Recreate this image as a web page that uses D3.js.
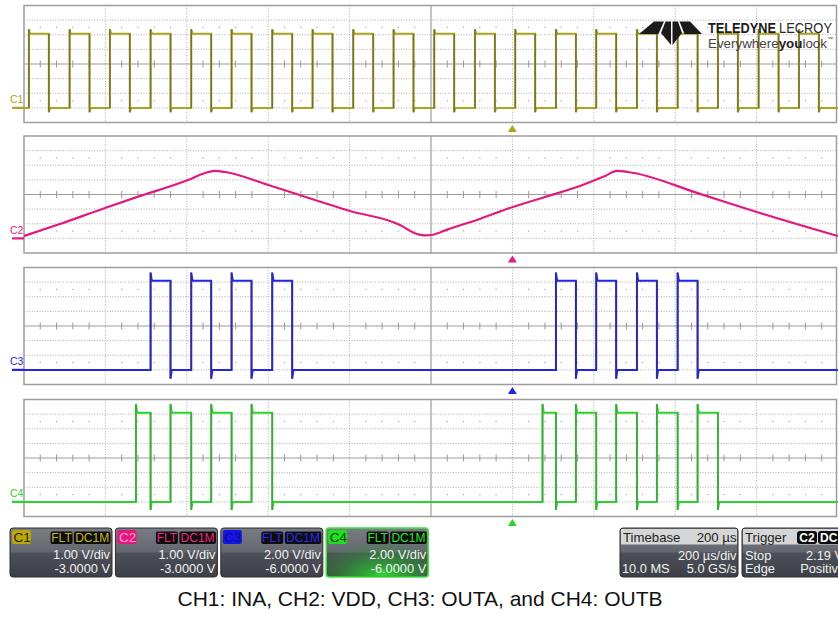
<!DOCTYPE html>
<html><head><meta charset="utf-8">
<script src="https://cdn.jsdelivr.net/npm/d3@7/dist/d3.min.js"></script>
<style>
body{margin:0;background:#fff;}
svg{display:block;font-family:"Liberation Sans",Arial,sans-serif;}
</style>
</head><body>
<svg id="chart" width="838" height="618"></svg>
<script>
// ---------------- DATA ----------------
const timeDomain = [0, 2000];            // µs across the screen (10 div x 200 µs)
const triggerTime = 1200;                // µs
const channels = ["C1", "C2", "C3", "C4"];
const voltsPerDiv = [1, 1, 2, 2];
const offsets = [-3, -3, -6, -6];
const scaleTexts = ["1.00 V/div", "1.00 V/div", "2.00 V/div", "2.00 V/div"];
const offsetTexts = ["-3.0000 V", "-3.0000 V", "-6.0000 V", "-6.0000 V"];

// CH1 INA: [rise, fall] times in µs
const c1Pulses = [[12,61],[112,161],[211,260],[311,360],[411,460],[510,559],[610,659],[709,758],[809,858],[908,957],
                  [1008,1057],[1108,1157],[1207,1256],[1307,1356],[1406,1455],[1506,1555],[1606,1655],[1705,1754],[1805,1854],[1904,1953]];
const c1Low = 0, c1High = 5.07;

// CH2 VDD: time (µs) / volts
const c2Times = [0, 88, 199, 278, 403, 445, 469, 494, 600, 801, 925, 960, 985, 1005, 1040, 1120, 1201, 1280, 1366, 1428, 1457, 1484, 1661, 1808, 2000];
const c2Volts = [0.16, 0.98, 2.08, 2.83, 3.99, 4.47, 4.61, 4.54, 3.65, 1.87, 0.9, 0.35, 0.2, 0.25, 0.6, 1.33, 2.15, 2.83, 3.58, 4.27, 4.61, 4.54, 3.04, 1.74, 0.16];

// CH3 OUTA pulses
const c3Pulses = [[311,360],[411,460],[510,559],[610,659],[1307,1356],[1406,1455],[1506,1555],[1606,1655]];
const c3Low = 0, c3High = 12.2;

// CH4 OUTB pulses
const c4Pulses = [[275,311],[360,411],[460,510],[559,610],[1274,1307],[1356,1406],[1455,1506],[1555,1606],[1655,1705]];
const c4Low = 0, c4High = 12.2;

const caption = "CH1: INA, CH2: VDD, CH3: OUTA, and CH4: OUTB";

// ---------------- STYLE / LAYOUT ----------------
const traceColors = ["#aaa41e", "#e3197e", "#2626e0", "#2ad42a"];
const edgeColors  = ["#76732e", "#e3197e", "#2e2e8c", "#4f9c4f"];
const labelBg     = ["#b9a70c", "#e8167c", "#1515e8", "#22dd22"];
const labelFg     = ["#2a2606", "#f9a6cf", "#0c0c8a", "#0a4a0a"];
const tagFg       = ["#c8b61e", "#f02383", "#2a2aee", "#2ae22a"];

const svg = d3.select("#chart");
const X0 = 24, X1 = 838, FRAME_R = 836.5;
const panelTops = [5.5, 136, 267.5, 399.5];
const PH = 117, NDIV_Y = 8, NDIV_X = 10;
const divH = PH / NDIV_Y;

const x = d3.scaleLinear().domain(timeDomain).range([X0, X1]);

const defs = svg.append("defs");

// ---------------- PANELS ----------------
const yScales = channels.map((c, i) => {
  const center = -offsets[i];
  return d3.scaleLinear()
    .domain([center - 4 * voltsPerDiv[i], center + 4 * voltsPerDiv[i]])
    .range([panelTops[i] + PH, panelTops[i]]);
});

channels.forEach((c, i) => {
  const top = panelTops[i], bot = top + PH, mid = top + PH / 2;
  const g = svg.append("g");
  const xt = d3.range(1, NDIV_X).map(k => timeDomain[0] + k * 200);
  g.selectAll(".vg").data(xt.filter(t => t !== 1000)).join("line")
    .attr("x1", d => x(d)).attr("x2", d => x(d)).attr("y1", top).attr("y2", bot)
    .attr("stroke", "#ababab").attr("stroke-width", 1).attr("stroke-dasharray", "1,1.6");
  const yt = d3.range(1, NDIV_Y).filter(k => k !== 4);
  g.selectAll(".hg").data(yt).join("line")
    .attr("x1", X0).attr("x2", FRAME_R).attr("y1", d => top + d * divH).attr("y2", d => top + d * divH)
    .attr("stroke", "#ababab").attr("stroke-width", 1).attr("stroke-dasharray", "1,1.6");
  const minor = d3.range(1, NDIV_X * 5).filter(k => k % 5 !== 0).map(k => timeDomain[0] + k * 40);
  g.selectAll(".tk").data(minor).join("line")
    .attr("x1", d => x(d)).attr("x2", d => x(d)).attr("y1", mid - 3.5).attr("y2", mid + 3.5)
    .attr("stroke", "#9a9a9a").attr("stroke-width", 1);
  [mid - 2.5 * divH, mid + 2.5 * divH].forEach(yy => {
    g.selectAll(null).data(minor).join("rect")
      .attr("x", d => x(d) - 0.6).attr("y", yy - 0.6).attr("width", 1.2).attr("height", 1.2)
      .attr("fill", "#a5a5a5");
  });
  g.append("line").attr("x1", X0).attr("x2", FRAME_R).attr("y1", mid).attr("y2", mid)
    .attr("stroke", "#9c9c9c").attr("stroke-width", 1.2);
  g.append("line").attr("x1", x(1000)).attr("x2", x(1000)).attr("y1", top).attr("y2", bot)
    .attr("stroke", "#9c9c9c").attr("stroke-width", 1.2);
  g.append("rect").attr("x", X0).attr("y", top).attr("width", FRAME_R - X0).attr("height", PH)
    .attr("fill", "none").attr("stroke", "#9d9d9d").attr("stroke-width", 1.5);
  const tx = x(triggerTime), ty = bot + 2.5;
  g.append("path").attr("d", `M${tx},${ty} L${tx + 4.5},${ty + 7} L${tx - 4.5},${ty + 7} Z`)
    .attr("fill", traceColors[i]);
  const y0 = yScales[i](0);
  g.append("line").attr("x1", 12).attr("x2", X0).attr("y1", y0).attr("y2", y0)
    .attr("stroke", traceColors[i]).attr("stroke-width", 2.2);
  g.append("text").attr("x", 10).attr("y", y0 - 4.5).text(c)
    .attr("font-size", 10.5).attr("fill", traceColors[i]);
});

// ---------------- TRACES ----------------
function squarePoints(pulses, low, high, os, us, dt) {
  const pts = [[timeDomain[0], low]];
  pulses.forEach(([r, f]) => {
    pts.push([r, low], [r, high + os], [r + dt, high], [f, high], [f, low - us], [f + dt, low]);
  });
  pts.push([timeDomain[1], low]);
  return pts;
}
function drawSquare(i, pulses, low, high, os, us) {
  const y = yScales[i];
  const line = d3.line().x(d => x(d[0])).y(d => y(d[1]));
  const pts = squarePoints(pulses, low, high, os, us, 3);
  svg.append("path").attr("d", line(pts)).attr("fill", "none")
    .attr("stroke", traceColors[i]).attr("stroke-width", 2).attr("stroke-linejoin", "miter");
  const edges = [];
  pulses.forEach(([r, f]) => { edges.push([r, low, high + os]); edges.push([f, high, low - us]); });
  svg.append("g").selectAll("line").data(edges).join("line")
    .attr("x1", d => x(d[0])).attr("x2", d => x(d[0]))
    .attr("y1", d => y(d[1])).attr("y2", d => y(d[2]))
    .attr("stroke", edgeColors[i]).attr("stroke-width", 1.5);
}
drawSquare(0, c1Pulses, c1Low, c1High, 0.3, 0.3);
drawSquare(2, c3Pulses, c3Low, c3High, 1.1, 1.2);
drawSquare(3, c4Pulses, c4Low, c4High, 1.2, 1.1);

const c2Line = d3.line().x(d => x(d[0])).y(d => yScales[1](d[1])).curve(d3.curveMonotoneX);
svg.append("path").attr("d", c2Line(c2Times.map((t, k) => [t, c2Volts[k]])))
  .attr("fill", "none").attr("stroke", traceColors[1]).attr("stroke-width", 2.2);

// ---------------- LOGO ----------------
const logo = svg.append("g");
[
  [[654,21.5],[664,21.5],[658.5,34],[639,34]],
  [[665.5,21.5],[671,21.5],[671,45],[661,33]],
  [[672.5,21.5],[678,21.5],[682,33],[672.5,45]],
  [[679.5,21.5],[690,21.5],[702,34],[684.5,34]]
].forEach(p => logo.append("path").attr("d", "M" + p.join("L") + "Z").attr("fill", "#1b1b1b"));
logo.append("text").attr("x", 708).attr("y", 32.5).text("TELEDYNE")
  .attr("font-weight", "bold").attr("font-size", 14.5).attr("fill", "#1b1b1b")
  .attr("textLength", 68).attr("lengthAdjust", "spacingAndGlyphs");
logo.append("text").attr("x", 779).attr("y", 32.5).text("LECROY")
  .attr("font-size", 14.5).attr("fill", "#2a2a2a")
  .attr("textLength", 53).attr("lengthAdjust", "spacingAndGlyphs");
const ev = logo.append("text").attr("x", 708).attr("y", 47.5).attr("font-size", 13.5).attr("fill", "#444")
  .attr("textLength", 119).attr("lengthAdjust", "spacingAndGlyphs");
ev.append("tspan").text("Everywhere");
ev.append("tspan").text("you").attr("font-weight", "bold").attr("fill", "#222");
ev.append("tspan").text("look");
logo.append("text").attr("x", 827).attr("y", 41).text("™").attr("font-size", 6).attr("fill", "#444");

// ---------------- INFO BOXES ----------------
const boxG = defs.append("linearGradient").attr("id", "boxg").attr("x1", 0).attr("x2", 0).attr("y1", 0).attr("y2", 1);
[["0", "#7a7c83"], ["0.48", "#64676f"], ["0.52", "#4d5058"], ["1", "#3c3f47"]]
  .forEach(([o, c]) => boxG.append("stop").attr("offset", o).attr("stop-color", c));
const glow = defs.append("radialGradient").attr("id", "glow").attr("cx", 0.55).attr("cy", 1).attr("r", 0.75)
  .attr("fx", 0.55).attr("fy", 1);
glow.append("stop").attr("offset", "0").attr("stop-color", "#2fe02f").attr("stop-opacity", 0.95);
glow.append("stop").attr("offset", "0.6").attr("stop-color", "#29a02f").attr("stop-opacity", 0.45);
glow.append("stop").attr("offset", "1").attr("stop-color", "#29a02f").attr("stop-opacity", 0);

const BY = 528, BH = 49, BW = 102, FS = 12.8;
channels.forEach((c, i) => {
  const bx = 10 + i * 105.4;
  const g = svg.append("g");
  g.append("rect").attr("x", bx).attr("y", BY).attr("width", BW).attr("height", BH).attr("rx", 3)
    .attr("fill", "url(#boxg)").attr("stroke", i === 3 ? "#3ce63c" : "#2c2c2c").attr("stroke-width", i === 3 ? 1.6 : 1);
  if (i === 3) g.append("rect").attr("x", bx + 1).attr("y", BY + 1).attr("width", BW - 2).attr("height", BH - 2)
    .attr("rx", 3).attr("fill", "url(#glow)");
  g.append("rect").attr("x", bx + 2).attr("y", BY + 2).attr("width", 19).attr("height", 14).attr("rx", 2).attr("fill", labelBg[i]);
  g.append("text").attr("x", bx + 3.5).attr("y", BY + 14).text(c).attr("font-size", 13.5).attr("fill", labelFg[i]);
  g.append("rect").attr("x", bx + 40.5).attr("y", BY + 3.5).attr("width", 22).attr("height", 12.5).attr("rx", 2).attr("fill", "#0e0e0e");
  g.append("rect").attr("x", bx + 64).attr("y", BY + 3.5).attr("width", 36.5).attr("height", 12.5).attr("rx", 2).attr("fill", "#0e0e0e");
  g.append("text").attr("x", bx + 51.5).attr("y", BY + 14).attr("text-anchor", "middle").text("FLT")
    .attr("font-size", 12).attr("fill", tagFg[i]);
  g.append("text").attr("x", bx + 82.2).attr("y", BY + 14).attr("text-anchor", "middle").text("DC1M")
    .attr("font-size", 12).attr("fill", tagFg[i]);
  g.append("text").attr("x", bx + 100).attr("y", 559).attr("text-anchor", "end").text(scaleTexts[i])
    .attr("font-size", FS).attr("fill", "#f2f2f2");
  g.append("text").attr("x", bx + 100).attr("y", 572.5).attr("text-anchor", "end").text(offsetTexts[i])
    .attr("font-size", FS).attr("fill", "#f2f2f2");
});

// Timebase box
(function () {
  const bx = 620, bw = 118;
  const g = svg.append("g");
  g.append("rect").attr("x", bx).attr("y", BY).attr("width", bw).attr("height", BH).attr("rx", 3)
    .attr("fill", "url(#boxg)").attr("stroke", "#2c2c2c");
  g.append("rect").attr("x", bx + 1).attr("y", BY + 1).attr("width", bw - 2).attr("height", 15.5).attr("fill", "#d6d6d6");
  g.append("text").attr("x", bx + 3).attr("y", BY + 13.5).text("Timebase").attr("font-size", 13.2).attr("fill", "#1e1e1e");
  g.append("text").attr("x", bx + bw - 1.5).attr("y", BY + 13.5).attr("text-anchor", "end").text("200 µs").attr("font-size", 13.2).attr("fill", "#1e1e1e");
  g.append("text").attr("x", bx + bw - 1.5).attr("y", 559.5).attr("text-anchor", "end").text("200 µs/div").attr("font-size", FS).attr("fill", "#f2f2f2");
  g.append("text").attr("x", bx + 2).attr("y", 572.5).text("10.0 MS").attr("font-size", FS).attr("fill", "#f2f2f2");
  g.append("text").attr("x", bx + bw - 1.5).attr("y", 572.5).attr("text-anchor", "end").text("5.0 GS/s").attr("font-size", FS).attr("fill", "#f2f2f2");
})();

// Trigger box
(function () {
  const bx = 742, bw = 110;
  const g = svg.append("g");
  g.append("rect").attr("x", bx).attr("y", BY).attr("width", bw).attr("height", BH).attr("rx", 3)
    .attr("fill", "url(#boxg)").attr("stroke", "#2c2c2c");
  g.append("rect").attr("x", bx + 1).attr("y", BY + 1).attr("width", bw - 2).attr("height", 15.5).attr("fill", "#d6d6d6");
  g.append("text").attr("x", bx + 3).attr("y", BY + 13.5).text("Trigger").attr("font-size", 13.2).attr("fill", "#1e1e1e");
  g.append("rect").attr("x", 797).attr("y", BY + 3).attr("width", 20).attr("height", 13).attr("rx", 3).attr("fill", "#0c0c0c");
  g.append("rect").attr("x", 818).attr("y", BY + 3).attr("width", 26).attr("height", 13).attr("rx", 3).attr("fill", "#0c0c0c");
  g.append("text").attr("x", 807).attr("y", BY + 14).attr("text-anchor", "middle").text(channels[1]).attr("font-size", 12).attr("font-weight", "bold").attr("fill", "#fff");
  g.append("text").attr("x", 820).attr("y", BY + 14).text("DC").attr("font-size", 12).attr("font-weight", "bold").attr("fill", "#fff");
  g.append("text").attr("x", bx + 3).attr("y", 559.5).text("Stop").attr("font-size", FS).attr("fill", "#f2f2f2");
  g.append("text").attr("x", 843).attr("y", 559.5).attr("text-anchor", "end").text("2.19 V").attr("font-size", FS).attr("fill", "#f2f2f2");
  g.append("text").attr("x", bx + 3).attr("y", 572.5).text("Edge").attr("font-size", FS).attr("fill", "#f2f2f2");
  g.append("text").attr("x", 845).attr("y", 572.5).attr("text-anchor", "end").text("Positive").attr("font-size", FS).attr("fill", "#f2f2f2");
})();

// ---------------- CAPTION ----------------
svg.append("text").attr("x", 420).attr("y", 606).attr("text-anchor", "middle").text(caption)
  .attr("font-size", 21).attr("fill", "#111");
</script>
</body></html>
